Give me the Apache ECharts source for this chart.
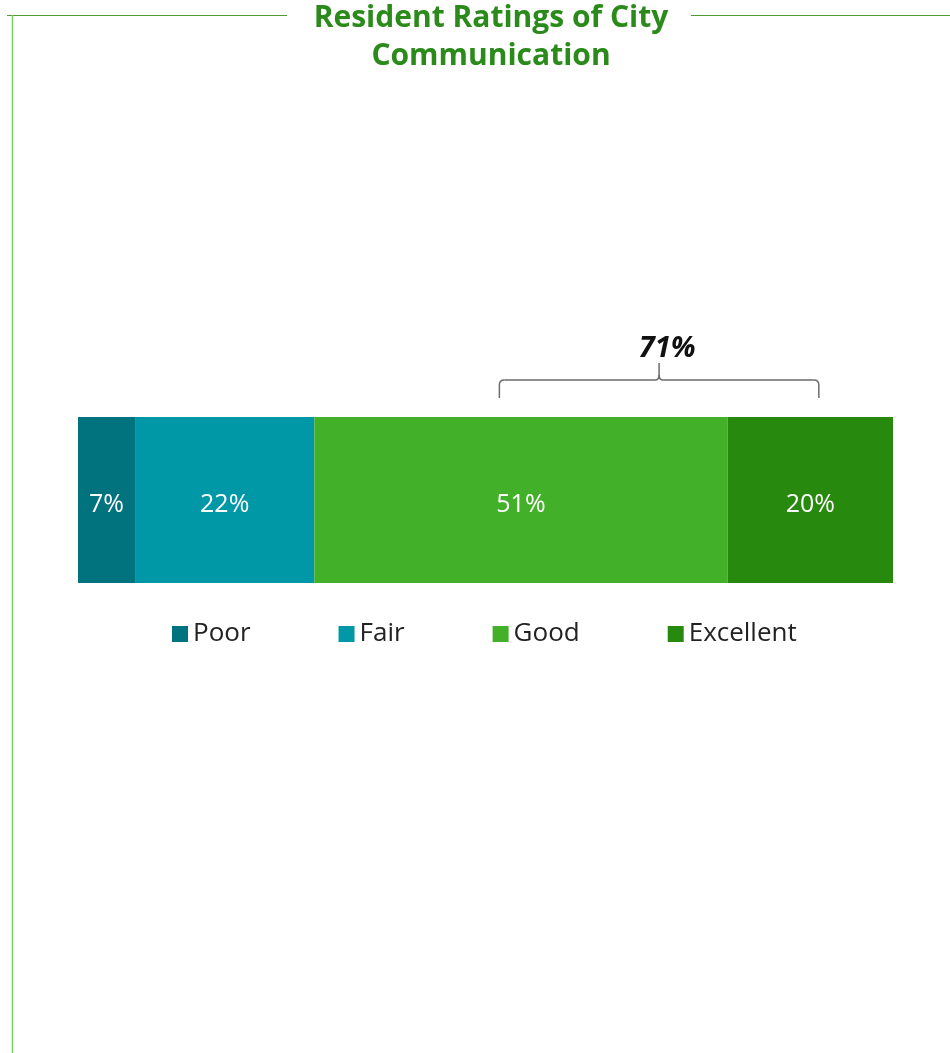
<!DOCTYPE html>
<html><head><meta charset="utf-8">
<script src="https://cdn.jsdelivr.net/npm/echarts@6/dist/echarts.min.js"></script>
<style>html,body{margin:0;padding:0;background:#fff}#c{width:950px;height:1053px}</style>
</head><body><div id="c"></div>
<script>
const categories = ['Communication'];
const seriesNames = ['Poor', 'Fair', 'Good', 'Excellent'];
const poor = [7.0];
const fair = [22.0];
const good = [50.7];
const excellent = [20.3];
const colors = ['#00737e', '#0097a7', '#43b02a', '#27890d'];
const bracketRange = [51.7, 90.9];

const values = [poor, fair, good, excellent];
const FONT = '"Open Sans", "Noto Sans", sans-serif';
const chart = echarts.init(document.getElementById('c'), null, {renderer: 'canvas'});

const series = seriesNames.map((n, i) => ({
  name: n, type: 'bar', stack: 'total', data: values[i], barWidth: 166,
  itemStyle: {color: colors[i]},
  label: {show: true, position: 'inside', color: '#fff', fontSize: 25, fontFamily: FONT, offset: [0, 5],
    formatter: p => Math.round(p.value) + '%'}
}));

chart.setOption({
  animation: false,
  title: {
    text: 'Resident Ratings of City\nCommunication', left: 486, textAlign: 'center', top: -6,
    textStyle: {color: '#2a8a1a', fontSize: 30, fontWeight: 'bold', fontFamily: FONT, lineHeight: 38}
  },
  legend: {
    data: seriesNames, top: 616, left: 167, itemWidth: 16, itemHeight: 16, itemGap: 88,
    icon: 'rect', textStyle: {fontSize: 26, color: '#222', fontFamily: FONT}
  },
  grid: {left: 78, right: 57, top: 417, height: 166},
  xAxis: {type: 'value', min: 0, max: 100, show: false},
  yAxis: {type: 'category', data: categories, show: false},
  series: series
});

const y0 = chart.convertToPixel({gridIndex: 0}, [0, 0])[1] - 83;
const xa = chart.convertToPixel({gridIndex: 0}, [bracketRange[0], 0])[0];
const xb = chart.convertToPixel({gridIndex: 0}, [bracketRange[1], 0])[0];
const xm = (xa + xb) / 2;
const top71 = Math.round(good[0] + excellent[0]);
const by = y0 - 37;
const bs = {stroke: '#6b6b6b', lineWidth: 1.5, fill: null};
chart.setOption({
  graphic: [
    {type: 'line', shape: {x1: 7, y1: 15.5, x2: 287, y2: 15.5}, style: {stroke: '#4f9a36', lineWidth: 1}},
    {type: 'line', shape: {x1: 691, y1: 15.5, x2: 950, y2: 15.5}, style: {stroke: '#4f9a36', lineWidth: 1}},
    {type: 'line', shape: {x1: 12.5, y1: 15, x2: 12.5, y2: 1053}, style: {stroke: '#7ccb68', lineWidth: 1.5}},
    {type: 'line', shape: {x1: xa, y1: by + 18, x2: xa, y2: by + 5}, style: bs},
    {type: 'bezierCurve', shape: {x1: xa, y1: by + 5, x2: xa + 5, y2: by, cpx1: xa, cpy1: by}, style: bs},
    {type: 'line', shape: {x1: xa + 5, y1: by, x2: xm - 4, y2: by}, style: bs},
    {type: 'bezierCurve', shape: {x1: xm - 4, y1: by, x2: xm, y2: by - 5, cpx1: xm, cpy1: by}, style: bs},
    {type: 'bezierCurve', shape: {x1: xm + 4, y1: by, x2: xm, y2: by - 5, cpx1: xm, cpy1: by}, style: bs},
    {type: 'line', shape: {x1: xm, y1: by - 5, x2: xm, y2: by - 17}, style: bs},
    {type: 'line', shape: {x1: xm + 4, y1: by, x2: xb - 5, y2: by}, style: bs},
    {type: 'bezierCurve', shape: {x1: xb - 5, y1: by, x2: xb, y2: by + 5, cpx1: xb, cpy1: by}, style: bs},
    {type: 'line', shape: {x1: xb, y1: by + 5, x2: xb, y2: by + 18}, style: bs},
    {type: 'text', x: xm + 8, y: by - 31, style: {text: top71 + '%', fill: '#111', font: `italic bold 29px ${FONT}`,
      textAlign: 'center', textVerticalAlign: 'middle'}}
  ]
});
</script></body></html>
